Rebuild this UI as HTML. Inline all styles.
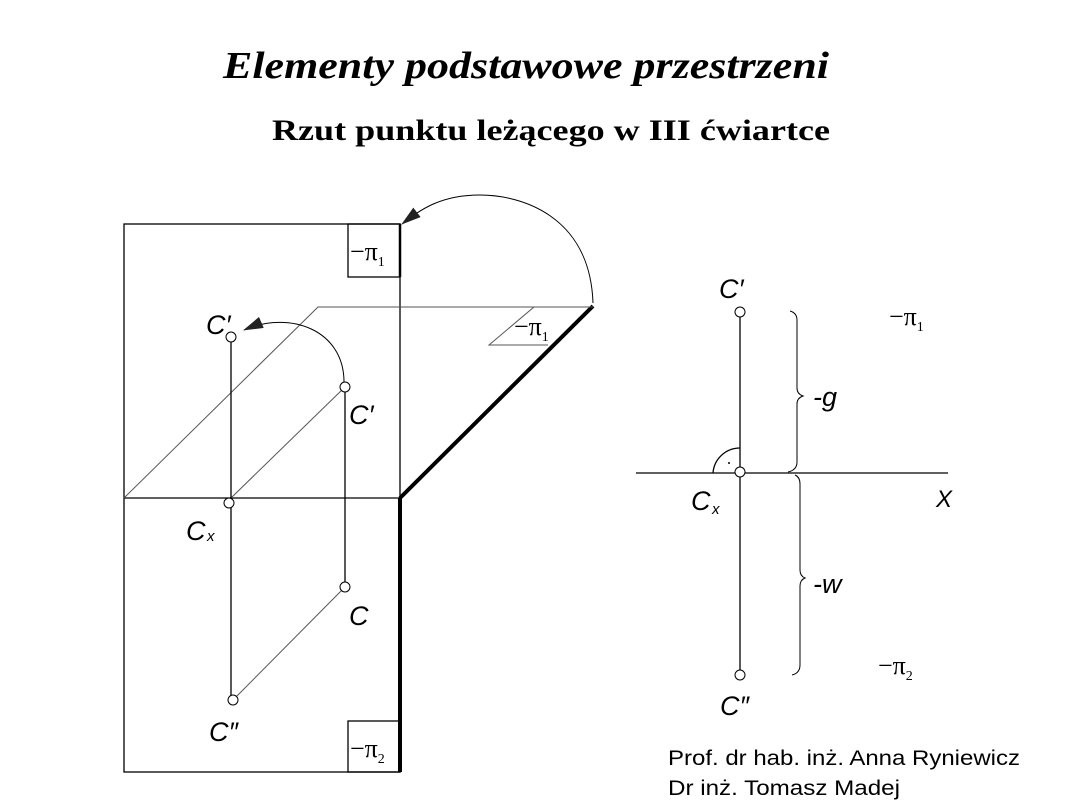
<!DOCTYPE html>
<html><head><meta charset="utf-8"><style>
body{margin:0;background:#fff;}
svg{display:block;}
text{font-family:"Liberation Sans",sans-serif;fill:#000;}
.s{font-family:"Liberation Serif",serif;}
</style></head><body>
<svg width="1080" height="810" viewBox="0 0 1080 810" xmlns="http://www.w3.org/2000/svg">
<defs>
<marker id="b" markerWidth="20" markerHeight="12" refX="19" refY="6" orient="auto" markerUnits="userSpaceOnUse"><path d="M0,0 L20,6 L0,12z" fill="#222"/></marker></defs>
<text x="526" y="78" class="s" font-size="38" font-weight="bold" font-style="italic" text-anchor="middle" textLength="606" lengthAdjust="spacingAndGlyphs">Elementy podstawowe przestrzeni</text>
<text x="551" y="140" class="s" font-size="30" font-weight="bold" text-anchor="middle" textLength="558" lengthAdjust="spacingAndGlyphs">Rzut punktu leżącego w III ćwiartce</text>
<g stroke="#000" fill="none" stroke-width="1.3">
<rect x="124" y="224" width="276" height="548"/>
<line x1="124" y1="498" x2="400" y2="498"/>
<rect x="348" y="224" width="52" height="53"/>
<rect x="348" y="721" width="52" height="51"/>
<line x1="400" y1="498" x2="400" y2="772" stroke-width="4"/>
<line x1="400" y1="498" x2="593" y2="306" stroke-width="4"/>
<line x1="400" y1="224" x2="400" y2="277" stroke-width="2.5"/>
<g stroke="#555" stroke-width="1">
<polyline points="124,498 318,307 593,307"/>
<polyline points="534,307 489,345 548,345"/>
<line x1="231" y1="498" x2="345" y2="387"/>
<line x1="233" y1="700" x2="345" y2="587"/>
</g>
<line x1="231" y1="342" x2="231" y2="696"/>
<line x1="345" y1="392" x2="345" y2="582"/>
<path d="M344,382 C344,330 290,310 244,330" stroke-width="1" marker-end="url(#b)"/>
<path d="M593,303 C590,215 520,195 480,195 C440,195 420,210 402,224" stroke-width="1" marker-end="url(#b)"/>
<g fill="#fff" stroke-width="1"><circle cx="231" cy="337" r="5"/><circle cx="345" cy="387" r="5"/><circle cx="229" cy="503" r="5"/><circle cx="345" cy="587" r="5"/><circle cx="233" cy="700" r="5"/></g>
<line x1="740" y1="317" x2="740" y2="670"/>
<line x1="636" y1="473" x2="948" y2="473"/>
<path d="M713,473 A27,27 0 0 1 740,448"/>
<g fill="#fff" stroke-width="1"><circle cx="740" cy="312" r="5"/><circle cx="740" cy="472" r="5"/><circle cx="740" cy="675" r="5"/></g>
<path d="M790,311 Q797,313 797,320 L797,388 Q797,394 803,396 Q797,398 797,404 L797,462 Q797,470 788,472" stroke-width="1"/>
<path d="M795,475 Q800,477 800,484 L800,570 Q800,576 805,578 Q800,580 800,586 L800,665 Q800,673 792,675" stroke-width="1"/>
</g>
<circle cx="729" cy="463" r="1" fill="#000"/>
<g font-size="27" font-style="italic">
<text x="206" y="334">C′</text><text x="349" y="424">C′</text>
<text x="186" y="540">C</text><text x="349" y="625">C</text><text x="209" y="741">C″</text>
<text x="719" y="298">C′</text><text x="691" y="510">C</text><text x="720" y="715">C″</text>
<text x="936" y="507" font-size="24">X</text>
<text x="813" y="406">-g</text><text x="813" y="593">-w</text>
</g>
<g font-size="15" font-style="italic"><text x="207" y="541">x</text><text x="712" y="514">x</text></g>
<g font-size="26">
<text x="350" y="260" class="s">−π<tspan font-size="14" dy="6">1</tspan></text>
<text x="350" y="757" class="s">−π<tspan font-size="14" dy="6">2</tspan></text>
<text x="514" y="335" class="s">−π<tspan font-size="14" dy="6">1</tspan></text>
<text x="889" y="325" class="s">−π<tspan font-size="14" dy="6">1</tspan></text>
<text x="878" y="674" class="s">−π<tspan font-size="14" dy="6">2</tspan></text>
</g>
<text x="668" y="765" font-size="21" fill="#000" textLength="352" lengthAdjust="spacingAndGlyphs">Prof. dr hab. inż. Anna Ryniewicz</text>
<text x="668" y="795" font-size="21" fill="#000" textLength="232" lengthAdjust="spacingAndGlyphs">Dr inż. Tomasz Madej</text>
</svg>
</body></html>
